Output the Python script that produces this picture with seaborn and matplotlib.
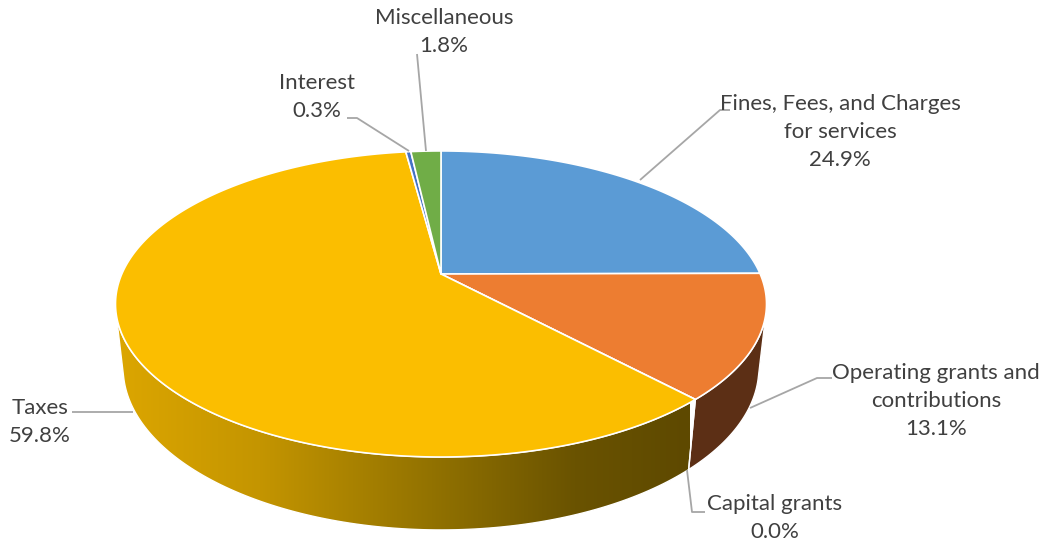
import numpy as np
import matplotlib
matplotlib.use("Agg")
import matplotlib.pyplot as plt
import seaborn as sns
from matplotlib.patches import Polygon
from matplotlib.colors import LinearSegmentedColormap

# ---- data -------------------------------------------------------------
categories = [
    "Fines, Fees, and Charges\nfor services",
    "Operating grants and\ncontributions",
    "Capital grants",
    "Taxes",
    "Interest",
    "Miscellaneous",
]
shares = [24.9, 13.1, 0.0, 59.8, 0.3, 1.8]

# ---- styling ----------------------------------------------------------
sns.set_theme(style="white")
plt.rcParams["font.family"] = ["Lato", "DejaVu Sans"]

top_colors = ["#5B9BD5", "#ED7D31", "#A5A5A5", "#FBBE00", "#4472C4", "#70AD47"]
wall_colors = ["#2F5F8C", "#5C2F15", "#6A6A6A", None, "#2A4A86", "#456E2C"]
taxes_wall_cmap = LinearSegmentedColormap.from_list(
    "taxes_wall",
    [(0.0, "#DCA600"), (0.25, "#C49500"), (0.55, "#927200"),
     (0.8, "#6A5300"), (1.0, "#5E4900")],
)

# label layout: (text centre x, text centre y), leader polyline in pixels
label_pos = [(840, 132), (936, 401), (775, 518), (40, 422), (317, 97), (444, 32)]
leaders = [
    [(730, 110), (720, 110), (640, 180)],
    [(832, 378), (817, 378), (750, 408)],
    [(705, 512), (692, 512), (687, 470)],
    [(72, 412), (133, 412)],
    [(347, 118), (357, 118), (409, 151)],
    [(417, 54), (426, 151)],
]

# ---- perspective camera for the tilted disc ---------------------------
CX, CY = 441.0, 274.0
FOCAL, DIST = 1446.0, 4.53
PHI = np.arcsin(0.461)
THICK = 0.228


def project(t_deg, z):
    t = np.radians(t_deg)
    u, v = np.cos(t), np.sin(t)
    depth = DIST + v * np.cos(PHI) - z * np.sin(PHI)
    up = v * np.sin(PHI) + z * np.cos(PHI)
    return CX + FOCAL * u / depth, CY - FOCAL * up / depth


def centre(z=0.0):
    depth = DIST - z * np.sin(PHI)
    return CX, CY - FOCAL * z * np.cos(PHI) / depth


total = sum(shares)
edges = 90.0 - 360.0 * np.concatenate([[0.0], np.cumsum(shares)]) / total

# visible front arc of the cylindrical wall
s_lim = -1.0 / (DIST * np.cos(PHI))
vis_hi = np.degrees(np.arcsin(s_lim))          # about -14 deg
vis_lo = -180.0 - vis_hi                        # about -166 deg

fig = plt.figure(figsize=(10.47, 5.48), dpi=100)
ax = fig.add_axes([0, 0, 1, 1])
ax.set_xlim(0, 1047)
ax.set_ylim(548, 0)
ax.axis("off")

# ---- side walls -------------------------------------------------------
for i, (a0, a1) in enumerate(zip(edges[:-1], edges[1:])):
    # slice runs clockwise from a0 down to a1; unwrap into the front arc
    lo, hi = a1, a0
    for shift in (0.0, -360.0, 360.0):
        l2, h2 = max(lo + shift, vis_lo), min(hi + shift, vis_hi)
        if h2 - l2 <= 1e-6:
            continue
        ts = np.linspace(h2, l2, 120)
        tx, ty = project(ts, 0.0)
        bx, by = project(ts[::-1], -THICK)
        pts = np.column_stack([np.concatenate([tx, bx]), np.concatenate([ty, by])])
        if wall_colors[i] is None:
            poly = Polygon(pts, closed=True, facecolor="none", edgecolor="none")
            ax.add_patch(poly)
            grad = np.linspace(0, 1, 256).reshape(1, -1)
            im = ax.imshow(grad, cmap=taxes_wall_cmap, aspect="auto",
                           extent=(116, 690, 548, 250), interpolation="bilinear",
                           zorder=1)
            im.set_clip_path(poly)
            ax.add_patch(Polygon(pts, closed=True, facecolor="none",
                                 edgecolor="white", lw=1.0, zorder=2))
        else:
            ax.add_patch(Polygon(pts, closed=True, facecolor=wall_colors[i],
                                 edgecolor="white", lw=1.0, zorder=2))

# ---- top faces --------------------------------------------------------
cx0, cy0 = centre(0.0)
for i, (a0, a1) in enumerate(zip(edges[:-1], edges[1:])):
    n = max(int(abs(a0 - a1) * 2), 2)
    ts = np.linspace(a0, a1, n)
    rx, ry = project(ts, 0.0)
    pts = np.column_stack([np.concatenate([[cx0], rx]), np.concatenate([[cy0], ry])])
    ax.add_patch(Polygon(pts, closed=True, facecolor=top_colors[i],
                         edgecolor="white", lw=1.2, zorder=3, joinstyle="round"))

# ---- data labels ------------------------------------------------------
for name, val, (lx, ly), path in zip(categories, shares, label_pos, leaders):
    xs, ys = zip(*path)
    ax.plot(xs, ys, color="#A6A6A6", lw=1.3, zorder=4, solid_capstyle="butt")
    ax.text(lx, ly, f"{name}\n{val:.1f}%", ha="center", va="center",
            multialignment="center", fontsize=16, color="#404040",
            linespacing=1.52, zorder=5)

fig.savefig("out.png", dpi=100)
